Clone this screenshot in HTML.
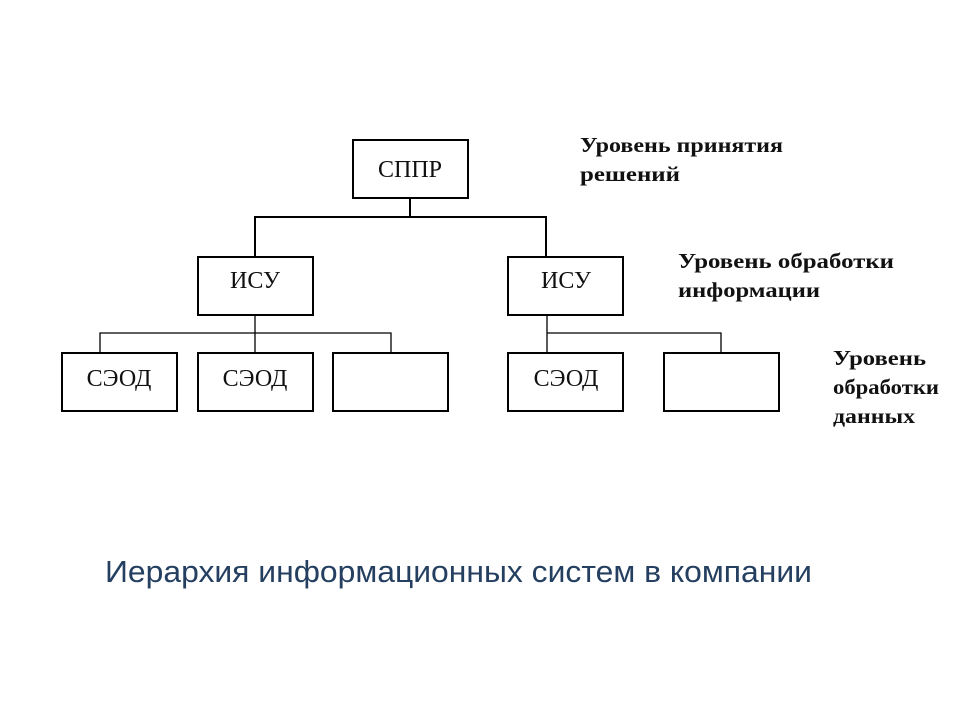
<!DOCTYPE html>
<html><head><meta charset="utf-8"><style>body{margin:0;background:#fff}svg{display:block}</style></head>
<body>
<svg width="960" height="720" xmlns="http://www.w3.org/2000/svg">
<rect width="960" height="720" fill="#fff"/>
<g fill="none" stroke="#000" stroke-width="2">
<rect x="353" y="140" width="115" height="58"/>
<rect x="198" y="257" width="115" height="58"/>
<rect x="508" y="257" width="115" height="58"/>
<rect x="62" y="353" width="115" height="58"/>
<rect x="198" y="353" width="115" height="58"/>
<rect x="333" y="353" width="115" height="58"/>
<rect x="508" y="353" width="115" height="58"/>
<rect x="664" y="353" width="115" height="58"/>
</g>
<g stroke="#000" stroke-width="2" fill="none">
<path d="M410 198V217M255 256V217H546V256"/>
</g>
<g stroke="#000" stroke-width="1.3" fill="none">
<path d="M255 315V333M100 352V333H391V352M255 333V352"/>
<path d="M547 315V352M547 333H721V352"/>
</g>
<g font-family="Liberation Serif, serif" font-size="24" fill="#111" text-anchor="middle">
<text x="410" y="177">СППР</text>
<text x="255" y="288">ИСУ</text>
<text x="566" y="288">ИСУ</text>
<text x="119" y="386">СЭОД</text>
<text x="255" y="386">СЭОД</text>
<text x="566" y="386">СЭОД</text>
</g>
<g font-family="Liberation Serif, serif" font-size="21" font-weight="bold" fill="#111">
<text x="580" y="152" textLength="203" lengthAdjust="spacingAndGlyphs">Уровень принятия</text>
<text x="580" y="181" textLength="100" lengthAdjust="spacingAndGlyphs">решений</text>
<text x="678" y="268" textLength="216" lengthAdjust="spacingAndGlyphs">Уровень обработки</text>
<text x="678" y="297" textLength="142" lengthAdjust="spacingAndGlyphs">информации</text>
<text x="833" y="365" textLength="93" lengthAdjust="spacingAndGlyphs">Уровень</text>
<text x="833" y="394" textLength="106" lengthAdjust="spacingAndGlyphs">обработки</text>
<text x="833" y="423" textLength="82" lengthAdjust="spacingAndGlyphs">данных</text>
</g>
<text x="105" y="582" font-family="Liberation Sans, sans-serif" font-size="31" fill="#243f60" textLength="707" lengthAdjust="spacingAndGlyphs">Иерархия информационных систем в компании</text>
</svg>
</body></html>
